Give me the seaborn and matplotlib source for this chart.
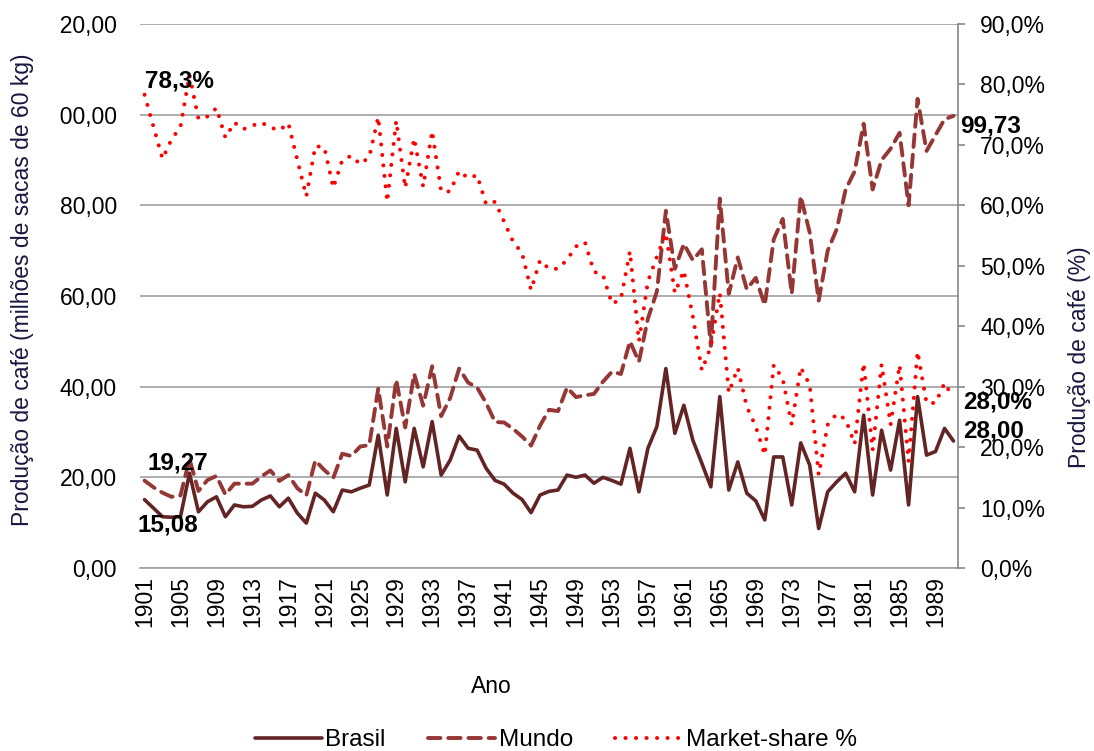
import numpy as np
import pandas as pd
import matplotlib
matplotlib.use('Agg')
import matplotlib.pyplot as plt
import seaborn as sns
from matplotlib.ticker import FuncFormatter
from matplotlib.transforms import Bbox

# Dados (leitura do gráfico)
anos = list(range(1901, 1992))

brasil = [15.08, 13.2, 11.3, 11.2, 11.3, 20.9, 12.4, 14.6, 15.7, 11.3,
          13.9, 13.5, 13.6, 15.0, 15.9, 13.5, 15.4, 12.1, 9.9, 16.5,
          15.0, 12.4, 17.2, 16.8, 17.6, 18.3, 29.3, 16.1, 30.8, 19.0,
          30.8, 22.3, 32.3, 20.5, 23.8, 29.1, 26.4, 26.0, 22.0, 19.3,
          18.5, 16.5, 15.1, 12.2, 16.1, 16.9, 17.2, 20.5, 20.0, 20.5,
          18.7, 20.0, 19.3, 18.5, 26.4, 16.8, 26.4, 31.2, 44.0, 29.7,
          35.9, 28.2, 23.1, 17.9, 37.8, 17.2, 23.4, 16.5, 14.8, 10.6,
          24.5, 24.5, 13.9, 27.6, 22.7, 8.7, 16.8, 19.0, 20.9, 16.8,
          33.7, 16.1, 30.4, 21.6, 32.6, 13.9, 37.8, 24.9, 25.7, 30.8,
          28.0]

mundo = [19.27, 17.8, 16.6, 15.7, 16.0, 24.0, 17.0, 19.4, 20.3, 16.2,
         18.6, 18.6, 18.6, 20.2, 21.5, 19.2, 20.5, 17.6, 16.0, 23.7,
         21.6, 19.9, 25.2, 24.7, 26.8, 27.1, 39.6, 26.8, 41.5, 31.0,
         42.8, 35.8, 44.5, 33.5, 37.5, 44.0, 40.9, 39.8, 36.4, 32.2,
         32.1, 30.7, 29.0, 27.0, 31.4, 34.9, 34.6, 39.8, 37.7, 38.1,
         38.4, 41.1, 43.3, 42.8, 50.0, 45.5, 55.0, 61.0, 78.8, 66.0,
         71.5, 67.9, 70.3, 49.0, 81.5, 60.5, 68.5, 61.5, 64.0, 58.0,
         72.5, 77.0, 60.5, 82.0, 74.0, 59.0, 70.0, 74.7, 83.5, 87.5,
         98.0, 83.5, 90.0, 92.5, 96.0, 80.0, 103.5, 92.0, 95.5, 99.0,
         99.73]

market_share = [78.3, 73.0, 67.7, 70.9, 73.0, 81.6, 74.3, 74.7, 76.1, 71.2,
                73.7, 72.6, 73.2, 73.7, 72.9, 72.4, 73.6, 67.5, 61.5, 69.8,
                69.6, 62.9, 67.5, 68.2, 66.8, 68.0, 74.6, 60.6, 74.0, 62.9,
                71.1, 63.1, 72.3, 62.3, 62.3, 65.7, 64.5, 65.0, 60.2, 60.6,
                57.3, 54.0, 52.1, 46.0, 50.9, 49.5, 49.5, 51.0, 53.2, 53.9,
                49.0, 48.5, 43.7, 44.5, 52.4, 37.5, 47.4, 51.5, 55.4, 45.5,
                49.2, 41.6, 32.7, 36.6, 45.5, 29.0, 33.1, 26.7, 23.4, 18.7,
                33.6, 31.3, 23.7, 33.2, 30.3, 15.4, 23.7, 25.5, 24.6, 20.5,
                33.9, 19.5, 33.7, 23.7, 33.6, 17.6, 35.8, 27.3, 27.3, 30.6,
                28.1]

df = pd.DataFrame({'Ano': anos, 'Brasil': brasil, 'Mundo': mundo,
                   'Market-share %': market_share})

sns.set_style('white')
plt.rcParams['font.family'] = ['Liberation Sans', 'DejaVu Sans']
plt.rcParams['text.color'] = 'black'
plt.rcParams['xtick.color'] = 'black'
plt.rcParams['ytick.color'] = 'black'
fs_tick = 16.5
fs_lab = 16.5

fig, ax = plt.subplots(figsize=(10.94, 7.51), dpi=100)
fig.subplots_adjust(left=0.128, right=0.8757, top=0.968, bottom=0.2437)
ax2 = ax.twinx()

sns.lineplot(data=df, x='Ano', y='Brasil', ax=ax, color='#632523', lw=2.6,
             label='Brasil', legend=False)
sns.lineplot(data=df, x='Ano', y='Mundo', ax=ax, color='#953735', lw=2.8,
             linestyle=(0, (3.2, 2.0)), dash_capstyle='round',
             label='Mundo', legend=False)
sns.lineplot(data=df, x='Ano', y='Market-share %', ax=ax2, color='#ff0000',
             lw=2.9, linestyle=(0, (0.01, 2.6)), dash_capstyle='round',
             label='Market-share %', legend=False)

# Eixos
ax.set_xlim(1900.5, 1991.5)
ax.set_ylim(0, 120)
ax2.set_ylim(0, 90)
ax.set_yticks(np.arange(0, 121, 20))
ax2.set_yticks(np.arange(0, 91, 10))
ax.set_xticks(range(1901, 1990, 4))
ax.set_xticklabels([str(a) for a in range(1901, 1990, 4)], rotation=90,
                   fontsize=fs_tick)
ax.yaxis.set_major_formatter(FuncFormatter(lambda v, p: f'{v:.2f}'.replace('.', ',')))
ax2.yaxis.set_major_formatter(FuncFormatter(lambda v, p: f'{v:.1f}%'.replace('.', ',')))
ax.tick_params(axis='y', length=0, pad=16.5, labelsize=fs_tick, labelcolor='black')
ax.tick_params(axis='x', length=0, pad=6, labelsize=fs_tick, labelcolor='black')
ax2.tick_params(axis='y', length=5, width=1.2, color='#868686', pad=11,
                labelsize=fs_tick, direction='out', labelcolor='black')

ax.yaxis.grid(True, color='#a0a0a0', lw=1.2)
ax.xaxis.grid(False)
for s in ['left', 'top', 'right']:
    ax.spines[s].set_visible(False)
for s in ['left', 'top', 'bottom']:
    ax2.spines[s].set_visible(False)
ax.spines['bottom'].set_color('#a0a0a0')
ax.spines['bottom'].set_linewidth(1.2)
ax2.spines['right'].set_color('#868686')
ax2.spines['right'].set_linewidth(1.2)

ax.set_xlabel('Ano', fontsize=fs_lab, color='black')
ax.xaxis.set_label_coords(0.43, -0.217)
ax.xaxis.label.set_va('center')
ax.set_ylabel('Produção de café (milhões de sacas de 60 kg)', fontsize=fs_lab,
              color='#17173f')
ax.yaxis.set_label_coords(-0.144, 0.511)
ax.yaxis.label.set_va('center')
ax2.set_ylabel('Produção de café (%)', fontsize=fs_lab, color='#17173f')
ax2.yaxis.set_label_coords(1.149, 0.388)
ax2.yaxis.label.set_va('center')

# Rótulos de dados
lbl = dict(fontsize=17.5, fontweight='bold', color='black', textcoords='offset points')
ax2.annotate('78,3%', (anos[0], market_share[0]), xytext=(0, 1.5), ha='left', va='bottom', **lbl)
ax.annotate('19,27', (anos[0], mundo[0]), xytext=(2.5, 13), ha='left', va='center', **lbl)
ax.annotate('15,08', (anos[0], brasil[0]), xytext=(-5.4, -18.5), ha='left', va='center', **lbl)
ax.annotate('99,73', (anos[-1], mundo[-1]), xytext=(4.6, -7), ha='left', va='center', **lbl)
ax2.annotate('28,0%', (anos[-1], market_share[-1]), xytext=(6.8, -3), ha='left', va='center', **lbl)
ax.annotate('28,00', (anos[-1], brasil[-1]), xytext=(6.8, 7), ha='left', va='center', **lbl)

# Legenda
h1, l1 = ax.get_legend_handles_labels()
h2, l2 = ax2.get_legend_handles_labels()
fig.legend(h1 + h2, l1 + l2, loc='center', bbox_to_anchor=(0.508, 0.0146),
           ncol=3, frameon=False, fontsize=17.5, handlelength=2.75,
           handletextpad=0.15, columnspacing=1.75)

# o "1" de 120,00 / 100,00 fica cortado na borda, como no original
fig.canvas.draw()
rend = fig.canvas.get_renderer()
for t in ax.yaxis.get_major_ticks():
    if t.label1.get_text() == '120,00':
        bb = t.label1.get_window_extent(rend)
        cut = bb.x0 + bb.width * 0.556 / 3.058 + 0.5
W, H = fig.bbox.width, fig.bbox.height
for t in ax.yaxis.get_major_ticks():
    t.label1.set_clip_on(True)
    t.label1.set_clip_box(Bbox.from_extents(cut, 0, W, H))

fig.savefig('out.png', dpi=100)
